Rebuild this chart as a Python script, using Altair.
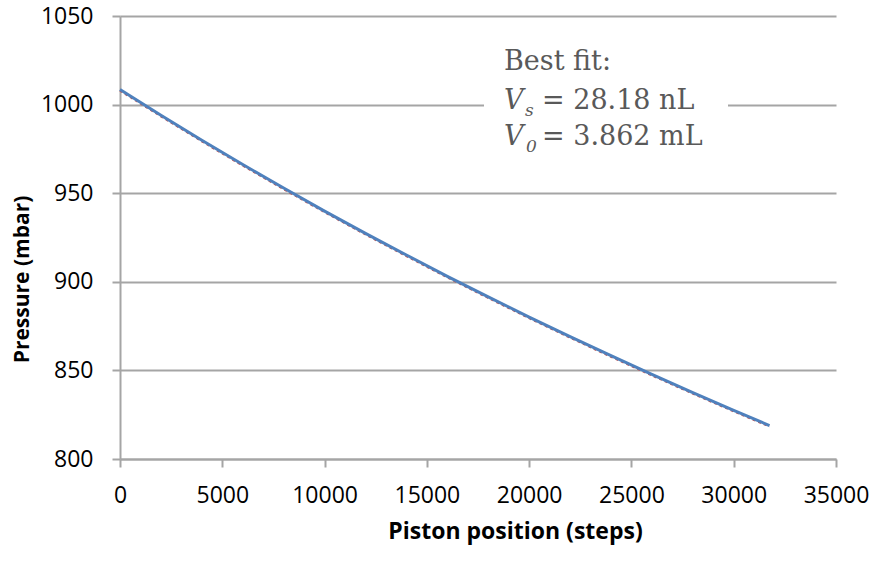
import altair as alt
import pandas as pd

# Piston position (steps) and measured / fitted pressure (mbar)
steps = [0, 2000, 4000, 6000, 8000, 10000, 12000, 14000, 16000,
         18000, 20000, 22000, 24000, 26000, 28000, 30000, 31750]
measured = [1008.5, 994.0, 979.9, 966.2, 952.9, 939.9, 927.3, 915.1, 903.1,
            891.5, 880.1, 869.1, 858.3, 847.8, 837.5, 827.5, 818.9]
fitted = [1008.0, 993.5, 979.4, 965.7, 952.4, 939.4, 926.8, 914.6, 902.6,
          891.0, 879.6, 868.6, 857.8, 847.3, 837.0, 827.0, 818.4]

x_ticks = [0, 5000, 10000, 15000, 20000, 25000, 30000, 35000]
y_ticks = [800, 850, 900, 950, 1000, 1050]

df = pd.DataFrame({"steps": steps, "measured": measured, "fitted": fitted})

GRAY = "#a5a5a5"
TEXT = "#595959"
AXIS_FONT = "Open Sans"
NOTE_FONT = "DejaVu Serif"

x_enc = alt.X(
    "steps:Q",
    scale=alt.Scale(domain=[0, 35000], nice=False),
    axis=alt.Axis(
        values=x_ticks, format="d", grid=False, labelOverlap=False, labelFlush=False,
        domainColor=GRAY, domainWidth=2, tickColor=GRAY, tickWidth=2, tickSize=8,
        labelFont=AXIS_FONT, labelFontSize=23, labelColor="#000000", labelPadding=17,
        title="Piston position (steps)", titleFont=AXIS_FONT, titleFontSize=23,
        titleFontWeight="bold", titleColor="#000000",
        titleX=395, titleY=79, titleBaseline="alphabetic", titleAlign="center",
    ),
)

y_axis = alt.Axis(
    values=y_ticks, format="d", grid=True, gridColor=GRAY, gridWidth=2,
    labelOverlap=False, labelFlush=False,
    domainColor=GRAY, domainWidth=2, tickColor=GRAY, tickWidth=2, tickSize=8,
    labelFont=AXIS_FONT, labelFontSize=23, labelColor="#000000", labelPadding=19,
    title="Pressure (mbar)", titleFont=AXIS_FONT, titleFontSize=21,
    titleFontWeight="bold", titleColor="#000000",
    titleX=-92, titleY=263, titleAngle=-90, titleBaseline="alphabetic", titleAlign="center",
)
y_scale = alt.Scale(domain=[800, 1050], nice=False, zero=False)

fit_line = alt.Chart(df).mark_line(
    color="#c0504d", strokeWidth=2.4, strokeDash=[3, 3]
).encode(
    x=x_enc,
    y=alt.Y("fitted:Q", scale=y_scale, axis=y_axis),
)

data_line = alt.Chart(df).mark_line(
    color="#4f81bd", strokeWidth=3
).encode(
    x=alt.X("steps:Q"),
    y=alt.Y("measured:Q"),
)

one = pd.DataFrame({"k": [0]})

# White text box behind the fit results
box = alt.Chart(one).mark_rect(color="white").encode(
    x=alt.value(364), x2=alt.value(608), y=alt.value(24), y2=alt.value(150)
)


def note(text, x, y, size=27, style="normal"):
    return alt.Chart(one).mark_text(
        text=text, align="left", baseline="alphabetic", font=NOTE_FONT,
        fontSize=size, fontStyle=style, color=TEXT,
    ).encode(x=alt.value(x), y=alt.value(y))


notes = [
    note("Best fit:", 384, 54),
    note("V", 384, 93, style="italic"),
    note("s", 405, 100, size=17, style="italic"),
    note("= 28.18 nL", 422, 93),
    note("V", 384, 129, style="italic"),
    note("0", 406, 136, size=17, style="italic"),
    note("= 3.862 mL", 422, 129),
]

chart = alt.layer(fit_line, data_line, box, *notes).properties(
    width=716, height=443,
    autosize=alt.AutoSizeParams(type="none"),
    padding={"left": 120, "top": 16, "right": 36, "bottom": 104},
    background="white",
).configure_view(stroke=None)

chart.save("out.html", embed_options={"renderer": "svg", "actions": False})
